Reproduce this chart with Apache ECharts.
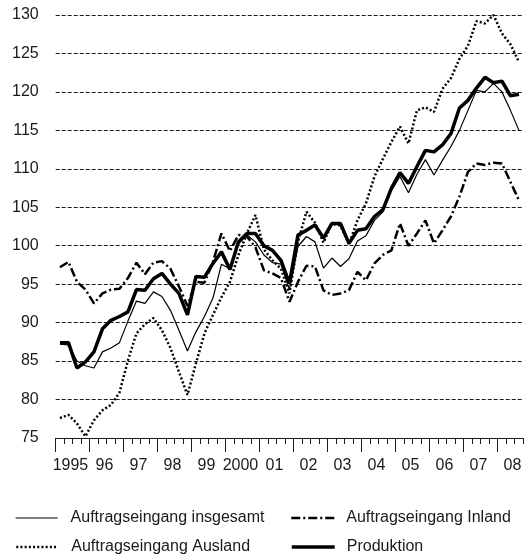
<!DOCTYPE html>
<html>
<head>
<meta charset="utf-8">
<script src="https://cdn.jsdelivr.net/npm/echarts@6/dist/echarts.min.js"></script>
<style>
  html, body { margin: 0; padding: 0; background: #fff; }
  #chart { width: 529px; height: 560px; }
</style>
</head>
<body>
<div id="chart"></div>
<script>
  // Quartale 1995 Q1 bis 2008 Q3
  var years = ['1995', '96', '97', '98', '99', '2000', '01', '02', '03', '04', '05', '06', '07', '08'];
  var quarters = [];
  for (var y = 0; y < years.length; y++) {
    for (var q = 1; q <= 4; q++) {
      if (y === years.length - 1 && q === 4) break;
      quarters.push(years[y] + ' Q' + q);
    }
  }

  var insgesamt = [
    87.2, 87.1, 85.0, 84.4,
    84.1, 86.2, 86.7, 87.4,
    90.2, 92.8, 92.5, 94.0,
    93.4, 91.6, 89.0, 86.3,
    88.8, 90.8, 93.2, 97.6,
    97.0, 100.2, 101.4, 100.5,
    98.8, 97.8, 97.6, 94.3,
    99.9, 101.2, 100.5, 97.1,
    98.4, 97.3, 98.3, 100.6,
    101.3, 103.3, 104.4, 107.2,
    109.0, 106.9, 109.3, 111.2,
    109.2, 111.1, 112.9, 115.0,
    117.6, 120.2, 120.0, 121.1,
    120.0, 117.6, 115.0
  ];
  var inland = [
    97.2, 97.9, 95.3, 94.3,
    92.5, 93.8, 94.3, 94.4,
    95.8, 97.8, 96.3, 97.8,
    98.0, 97.0, 94.7, 92.2,
    95.3, 95.2, 97.9, 101.6,
    99.3, 101.4, 101.2, 99.8,
    96.8, 96.4, 95.8, 92.7,
    95.3, 97.4, 97.3, 94.2,
    93.6, 93.8, 94.2, 96.6,
    95.5, 97.7, 98.8, 99.4,
    102.9, 100.0, 101.6, 103.3,
    100.3, 102.0, 103.8, 106.4,
    109.6, 110.7, 110.5, 110.8,
    110.7, 108.3, 105.9
  ];
  var ausland = [
    77.6, 78.0, 76.9, 75.2,
    77.3, 78.6, 79.3, 80.9,
    85.1, 88.6, 89.8, 90.6,
    89.0, 86.7, 83.6, 80.6,
    84.7, 88.6, 91.0, 93.3,
    95.3, 98.8, 101.6, 104.0,
    99.5, 98.1, 97.0, 93.8,
    100.5, 104.4, 103.0, 100.4,
    102.9, 102.6, 100.2, 103.3,
    105.5, 109.0, 111.3, 113.5,
    115.5, 113.3, 117.6, 118.0,
    117.4, 120.4, 121.8, 124.3,
    126.0, 129.2, 128.9, 130.0,
    127.6, 126.2, 123.9
  ];
  var produktion = [
    87.4, 87.4, 84.1, 84.9,
    86.2, 89.2, 90.3, 90.8,
    91.4, 94.3, 94.2, 95.7,
    96.4, 95.0, 93.8, 91.0,
    96.0, 95.9, 97.7, 99.2,
    96.9, 100.5, 101.6, 101.6,
    100.0, 99.4, 98.1, 95.1,
    101.4, 102.0, 102.7, 101.0,
    102.9, 102.9, 100.3, 102.0,
    102.2, 103.8, 104.7, 107.5,
    109.5, 108.1, 110.3, 112.4,
    112.2, 113.1, 114.6, 117.9,
    118.9, 120.5, 121.9, 121.2,
    121.4, 119.5, 119.7
  ];

  var font = "'Liberation Sans', Arial, sans-serif";
  var ink = '#1a1a1a';

  var chart = echarts.init(document.getElementById('chart'));

  function legendItem(name, left, top, width, lineWidth, gap) {
    return {
      data: [name],
      left: left,
      top: top,
      itemWidth: width,
      itemHeight: 14,
      selectedMode: false,
      itemStyle: { opacity: 0 },
      lineStyle: { width: lineWidth },
      textStyle: { fontFamily: font, fontSize: 16, color: ink, padding: [0, 0, 0, gap] }
    };
  }

  var option = {
    animation: false,
    grid: [
      { left: 55.7, right: 5.8, top: 15, bottom: 122 },
      // nur die vollen Jahre 1995-2007, fuer die langen Jahresstriche
      { left: 55.7, width: 442, top: 15, bottom: 122 }
    ],
    xAxis: [
      {
        type: 'category',
        gridIndex: 0,
        data: quarters,
        boundaryGap: true,
        axisLine: { show: true, lineStyle: { color: ink, width: 1.2 } },
        axisTick: { show: true, interval: 0, length: 6, lineStyle: { color: ink, width: 1 } },
        axisLabel: {
          interval: function (i) { return i % 4 === 1; },
          formatter: function (v, i) { return years[Math.floor(i / 4)]; },
          fontFamily: font, fontSize: 16, color: ink,
          margin: 20,
          padding: [0, 0, 0, 4]
        },
        splitLine: { show: false }
      },
      {
        type: 'category',
        gridIndex: 1,
        data: quarters.slice(0, 52),
        boundaryGap: true,
        axisLine: { show: false, onZero: false },
        axisTick: {
          show: true,
          interval: function (i) { return i % 4 === 0; },
          length: 14,
          lineStyle: { color: ink, width: 1 }
        },
        axisLabel: { show: false },
        splitLine: { show: false }
      }
    ],
    yAxis: [
      {
        type: 'value',
        gridIndex: 0,
        min: 75, max: 130, interval: 5,
        axisLine: { show: false },
        axisTick: { show: false },
        axisLabel: { fontFamily: font, fontSize: 16, color: ink, margin: 17 },
        splitLine: { lineStyle: { color: ink, width: 1, type: [4, 2] } }
      },
      {
        type: 'value', gridIndex: 1, min: 0, max: 1, show: false
      }
    ],
    legend: [
      legendItem('Auftragseingang insgesamt', 10, 505, 42, 1.2, 8),
      legendItem('Auftragseingang Inland', 285, 505, 43, 2.5, 7),
      legendItem('Auftragseingang Ausland', 10, 534, 42, 2.5, 8),
      legendItem('Produktion', 285, 534, 43, 3.5, 7)
    ],
    series: [
      {
        name: 'Auftragseingang insgesamt', type: 'line', symbol: 'none',
        data: insgesamt,
        lineStyle: { color: '#000', width: 1.2 }, itemStyle: { color: '#000' }
      },
      {
        name: 'Auftragseingang Inland', type: 'line', symbol: 'none',
        data: inland,
        lineStyle: { color: '#000', width: 2.5, type: [9, 3, 2, 3] }, itemStyle: { color: '#000' }
      },
      {
        name: 'Auftragseingang Ausland', type: 'line', symbol: 'none',
        data: ausland,
        lineStyle: { color: '#000', width: 2.5, type: [2, 2.2] }, itemStyle: { color: '#000' }
      },
      {
        name: 'Produktion', type: 'line', symbol: 'none',
        data: produktion,
        lineStyle: { color: '#000', width: 3.5 }, itemStyle: { color: '#000' }
      }
    ]
  };

  option && chart.setOption(option);
</script>
</body>
</html>
